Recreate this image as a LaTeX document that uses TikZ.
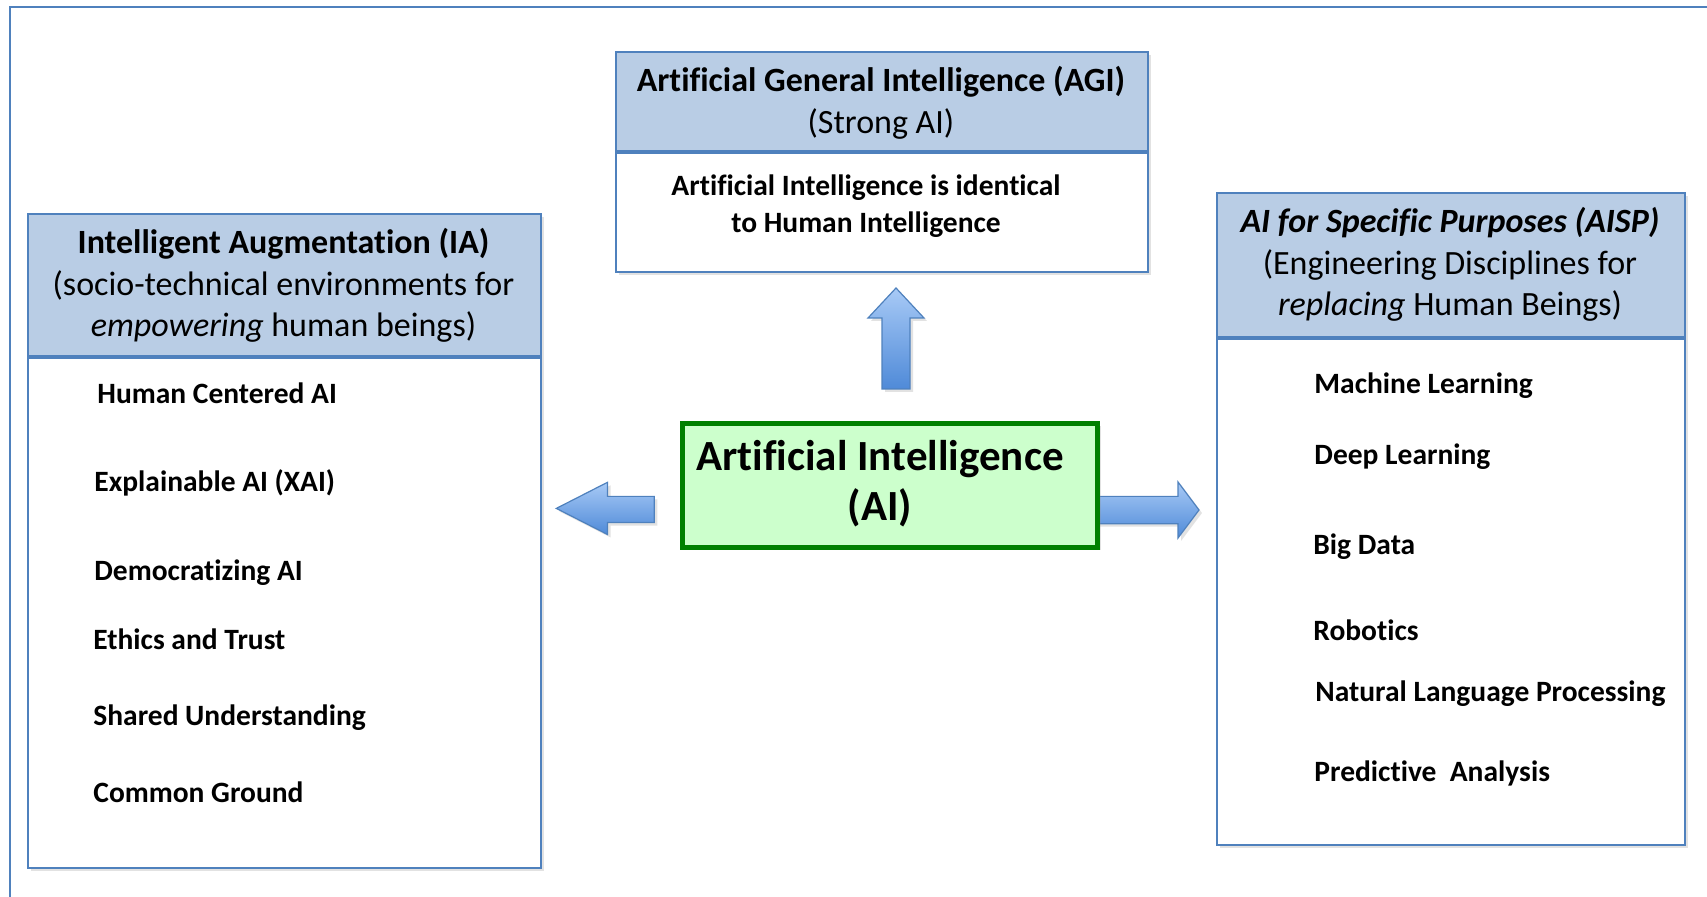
\documentclass[tikz,border=0pt]{standalone}
\usepackage{fontspec}
\setmainfont{Carlito}[Ligatures=NoCommon]
\usetikzlibrary{shadows}
\definecolor{boxblue}{HTML}{4F81BD}
\definecolor{hdrfill}{HTML}{B9CDE5}
\definecolor{aifill}{HTML}{CCFFCC}
\definecolor{aigreen}{HTML}{008000}
\definecolor{arrtop}{HTML}{A8CAF6}
\definecolor{arrbot}{HTML}{4F8AD8}
\begin{document}
\begin{tikzpicture}[x=0.5pt,y=-0.5pt,
  boxshadow/.style={drop shadow={shadow xshift=1.5pt,shadow yshift=-1.5pt,opacity=0.25,fill=black!45}},
  hdr/.style={draw=boxblue,line width=1pt,fill=hdrfill,inner sep=0pt,anchor=north west,boxshadow},
  hdrtext/.style={inner sep=0pt,align=center,font=\fontsize{17}{20.7}\selectfont},
  bodybox/.style={draw=boxblue,line width=1pt,fill=white,inner sep=0pt,anchor=north west,boxshadow},
  sepline/.style={draw=boxblue,line width=2pt},
  item/.style={anchor=mid west,inner sep=0pt,font=\fontsize{14.75}{18}\selectfont\bfseries},
  blockarrow/.style={draw=boxblue,line width=0.6pt,top color=arrtop,bottom color=arrbot,boxshadow},
  frame/.style={draw=boxblue,line width=1pt}
]
\useasboundingbox (0,0) rectangle (1707,897);
% outer frame
\coordinate (fbl) at (10,897);
\coordinate (ftl) at (10,7);
\coordinate (ftr) at (1707,7);
\draw[frame] (fbl) -- (ftl) -- (ftr);

% arrows (drawn first so the AI box covers the start of the right arrow)
\path[blockarrow] (882,389) -- (882,318) -- (868,318) -- (896,288) -- (924,318) -- (910,318) -- (910,389) -- cycle;
\path[blockarrow] (654.3,496.4) -- (607.5,496.4) -- (607.5,482.3) -- (556.3,508.4) -- (607.5,534.5) -- (607.5,522.6) -- (654.3,522.6) -- cycle;
\path[blockarrow] (1090,496.4) -- (1178,496.4) -- (1178,482) -- (1199,510) -- (1178,538) -- (1178,523.7) -- (1090,523.7) -- cycle;

% IA box
\node[bodybox,minimum width=256.5pt,minimum height=256pt] (iabody) at (27,355) {};
\node[hdr,minimum width=256.5pt,minimum height=71pt] (iahead) at (27,213) {};
\draw[sepline] (iahead.south west) -- (iahead.south east);
\node[hdrtext] (iatext) at (283.5,285.5)
  {{\bfseries Intelligent Augmentation (IA)}\\(socio-technical environments for\\\emph{empowering} human beings)};

% AGI box
\node[bodybox,minimum width=266pt,minimum height=60.5pt] (agibody) at (615,150) {};
\node[hdr,minimum width=266pt,minimum height=49.5pt] (agihead) at (615,51) {};
\draw[sepline] (agihead.south west) -- (agihead.south east);
\node[hdrtext] (agihtext) at (881,103)
  {{\bfseries Artificial General Intelligence (AGI)}\\(Strong AI)};
\node[inner sep=0pt,align=center,font=\fontsize{14.75}{18.5}\selectfont\bfseries] (agitext) at (866,206)
  {Artificial Intelligence is identical\\to Human Intelligence};

% AISP box
\node[bodybox,minimum width=234pt,minimum height=254pt] (aispbody) at (1216,336) {};
\node[hdr,minimum width=234pt,minimum height=72pt] (aisphead) at (1216,192) {};
\draw[sepline] (aisphead.south west) -- (aisphead.south east);
\node[hdrtext] (aisptext) at (1450,264.5)
  {{\bfseries\itshape AI for Specific Purposes (AISP)}\\(Engineering Disciplines for\\\emph{replacing} Human Beings)};

% IA items
\node[item] (ia1) at (97,398.5) {Human Centered AI};
\node[item] (ia2) at (94,486.5) {Explainable AI (XAI)};
\node[item] (ia3) at (94,576) {Democratizing AI};
\node[item] (ia4) at (93,644.5) {Ethics and Trust};
\node[item] (ia5) at (93,720.5) {Shared Understanding};
\node[item] (ia6) at (93,798) {Common Ground};

% AISP items
\node[item] (ai1) at (1314,388.5) {Machine Learning};
\node[item] (ai2) at (1314,459.5) {Deep Learning};
\node[item] (ai3) at (1313,549.5) {Big Data};
\node[item] (ai4) at (1313,635.5) {Robotics};
\node[item] (ai5) at (1315,696.5) {Natural Language Processing};
\node[item] (ai6) at (1314,776.5) {Predictive\ \ Analysis};

% central AI box
\node[draw=aigreen,line width=2.5pt,fill=aifill,inner sep=0pt,anchor=north west,
  minimum width=207.5pt,minimum height=62pt,boxshadow] (ai) at (680,421) {};
\node[inner sep=0pt,align=center,font=\fontsize{21.5}{25}\selectfont\bfseries] (aitext) at (880,484)
  {Artificial Intelligence\\(AI)};
\end{tikzpicture}
\end{document}
